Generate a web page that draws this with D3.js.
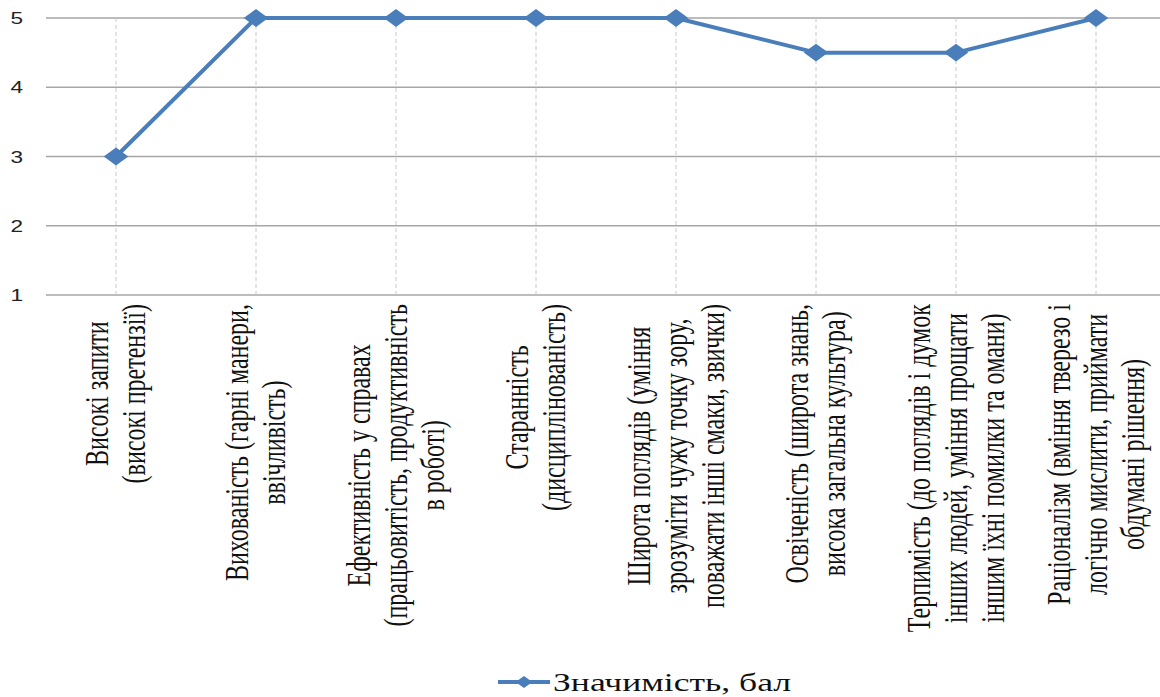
<!DOCTYPE html>
<html>
<head>
<meta charset="utf-8">
<script src="https://cdn.jsdelivr.net/npm/d3@7"></script>
</head>
<body style="margin:0">
<svg id="chart" width="1160" height="697"></svg>
<script>
// Categories (multi-line labels), scores and axis ticks
const categories = [
  ["Високі запити", "(високі претензії)"],
  ["Вихованість (гарні манери,", "ввічливість)"],
  ["Ефективність у справах", "(працьовитість, продуктивність", "в роботі)"],
  ["Старанність", "(дисциплінованість)"],
  ["Широта поглядів (уміння", "зрозуміти чужу точку зору,", "поважати інші смаки, звички)"],
  ["Освіченість (широта знань,", "висока загальна культура)"],
  ["Терпимість (до поглядів і думок", "інших людей, уміння прощати", "іншим їхні помилки та омани)"],
  ["Раціоналізм (вміння тверезо і", "логічно мислити, приймати", "обдумані рішення)"]
];
const values = [3, 5, 5, 5, 5, 4.5, 4.5, 5];
const yTicks = [1, 2, 3, 4, 5];
const seriesName = "Значимість, бал";

const SERIF = '"Liberation Serif", "Times New Roman", serif';
const svg = d3.select("#chart");
const W = 1160;
const plot = { left: 46, right: 1166, top: 18, bottom: 295 };
const stretch = 1.37;           // horizontal glyph widening used throughout
const blue = "#4A7EBB";
const labelFont = 24, lineH = 27;

// text widths measured on a canvas with the label font
const ctx = document.createElement("canvas").getContext("2d");
ctx.font = `${labelFont}px ${SERIF}`;
const textW = s => ctx.measureText(s).width;

const x = d3.scaleBand()
  .domain(d3.range(categories.length))
  .range([plot.left, plot.right]);
const cx = i => x(i) + x.bandwidth() / 2;

const y = d3.scaleLinear().domain([1, 5]).range([plot.bottom, plot.top]);

// horizontal gridlines
svg.append("g")
  .selectAll("line")
  .data(yTicks)
  .join("line")
  .attr("x1", plot.left).attr("x2", W)
  .attr("y1", d => y(d)).attr("y2", d => y(d))
  .attr("stroke", "#a6a6a6").attr("stroke-width", 1.3);

// vertical dashed gridlines at each category
svg.append("g")
  .selectAll("line")
  .data(d3.range(categories.length))
  .join("line")
  .attr("x1", d => cx(d)).attr("x2", d => cx(d))
  .attr("y1", plot.top).attr("y2", plot.bottom)
  .attr("stroke", "#c8c8c8").attr("stroke-width", 1)
  .attr("stroke-dasharray", "4,3");

// y tick labels
svg.append("g")
  .selectAll("text")
  .data(yTicks)
  .join("text")
  .style("font-family", '"Liberation Sans", Arial, sans-serif')
  .attr("transform", d => `translate(23,${y(d) + 6}) scale(${stretch},1)`)
  .attr("text-anchor", "end")
  .attr("font-size", 16.5)
  .attr("fill", "#222")
  .text(d => d);

// category labels, rotated; lines centred within each block, block top at the axis
categories.forEach((lines, i) => {
  const maxW = d3.max(lines, textW);
  svg.append("text")
    .style("font-family", SERIF)
    .attr("font-size", labelFont)
    .attr("fill", "#111")
    .attr("text-anchor", "middle")
    .attr("transform", `translate(${cx(i)},${plot.bottom + 9}) scale(${stretch},1) rotate(-90)`)
    .selectAll("tspan")
    .data(lines)
    .join("tspan")
    .attr("x", -maxW / 2)
    .attr("y", (d, j) => (j - (lines.length - 1) / 2) * lineH + 8)
    .text(d => d);
});

// series line
const line = d3.line().x((d, i) => cx(i)).y(d => y(d));
svg.append("path")
  .datum(values)
  .attr("d", line)
  .attr("fill", "none")
  .attr("stroke", blue)
  .attr("stroke-width", 4)
  .attr("stroke-linejoin", "round");

// diamond markers
svg.append("g")
  .selectAll("path")
  .data(values)
  .join("path")
  .attr("transform", (d, i) => `translate(${cx(i)},${y(d)}) scale(${stretch},1) rotate(45)`)
  .attr("d", d3.symbol().type(d3.symbolSquare).size(160))
  .attr("fill", blue);

// legend
svg.append("line")
  .attr("x1", 498).attr("x2", 550).attr("y1", 682).attr("y2", 682)
  .attr("stroke", blue).attr("stroke-width", 4);
svg.append("path")
  .attr("transform", `translate(524,682) scale(${stretch},1) rotate(45)`)
  .attr("d", d3.symbol().type(d3.symbolSquare).size(75))
  .attr("fill", blue);
svg.append("text")
  .style("font-family", SERIF)
  .attr("transform", `translate(553,691) scale(${stretch},1)`)
  .attr("font-size", 26)
  .attr("fill", "#111")
  .text(seriesName);
</script>
</body>
</html>
